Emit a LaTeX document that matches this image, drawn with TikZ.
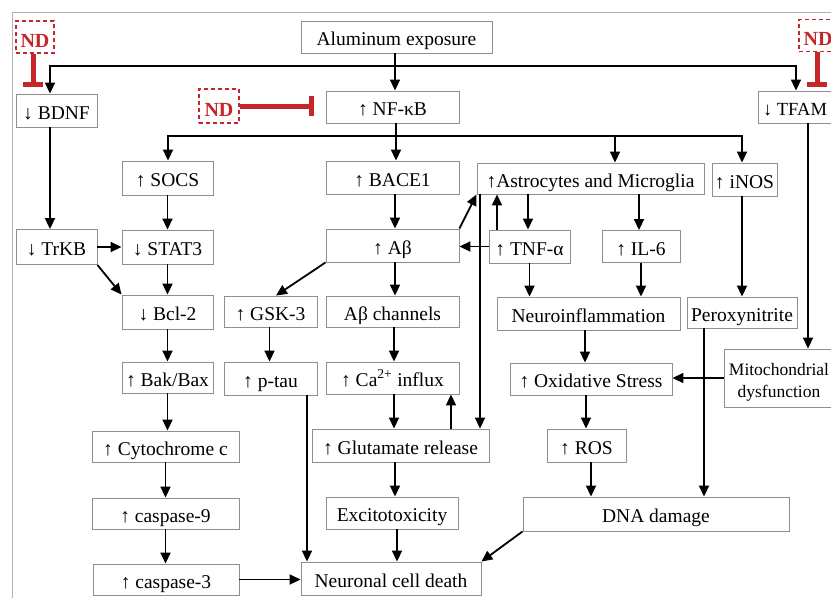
\documentclass[tikz,border=0pt]{standalone}
\usepackage{fontspec}
\setmainfont{Liberation Serif}
\usetikzlibrary{arrows.meta}
\definecolor{ndred}{HTML}{C4262A}
\definecolor{boxgray}{HTML}{8F8F8F}
\newcommand\mybox[6]{\node[box, minimum width=#4pt, minimum height=#5pt] (#1) at (#2,#3) {#6};}
\begin{document}
\begin{tikzpicture}[x=1pt,y=-1pt,
  >={Triangle[length=11pt,width=10pt]},
  box/.style={draw=boxgray, line width=0.9pt, inner sep=0pt, font=\fontsize{19.5}{23}\selectfont, text=black, text height=19.5pt, text depth=2.5pt},
  ndbox/.style={draw=ndred, dash pattern=on 4pt off 3pt, line width=1.5pt, text=ndred, font=\fontsize{20}{22}\selectfont\bfseries, inner sep=0pt, minimum width=38pt, minimum height=32pt, text height=21pt, text depth=1pt},
  arr/.style={line width=1.8pt, ->},
  inh/.style={ndred, line width=5pt, -{Bar[width=20pt]}},
]
\clip (0,0) rectangle (831,598);
\fill[white] (0,0) rectangle (831,598);
\draw[gray!60, line width=1pt] (12,598) -- (12,12) -- (831,12);

% nodes
\mybox{alu}{396.5}{37}{191}{32}{Aluminum exposure}
\mybox{bdnf}{56.5}{110.5}{81}{33}{↓ BDNF}
\mybox{nfkb}{392.5}{107}{133}{32}{↑ NF-κB}
\mybox{tfam}{795}{107}{74}{32}{\fontsize{18.5}{22}\selectfont ↓ TFAM}
\mybox{socs}{167.5}{178}{91}{34}{↑ SOCS}
\mybox{bace}{392.5}{177.5}{133}{33}{↑ BACE1}
\mybox{astro}{590.5}{178.5}{227}{31}{↑Astrocytes and Microglia}
\mybox{inos}{744.5}{179.5}{65}{33}{↑ iNOS}
\mybox{trkb}{56.5}{247}{81}{35}{↓ TrKB}
\mybox{stat3}{167.5}{247}{91}{34}{↓ STAT3}
\mybox{abeta}{392.5}{245.5}{133}{33}{↑ Aβ}
\mybox{tnf}{529.5}{246.5}{81}{33}{↑ TNF-α}
\mybox{il6}{641}{246.5}{78}{32}{↑ IL-6}
\mybox{bcl2}{167.5}{312}{91}{34}{↓ Bcl-2}
\mybox{gsk}{270.5}{311.5}{93}{31}{↑ GSK-3}
\mybox{abch}{392.5}{311.5}{133}{31}{Aβ channels}
\mybox{neuroinf}{588.5}{313.5}{183}{33}{Neuroinflammation}
\mybox{perox}{742}{312.5}{110}{31}{Peroxynitrite}
\mybox{bakbax}{167.5}{377.5}{91}{31}{↑ Bak/Bax}
\mybox{ptau}{270.5}{378.5}{93}{33}{↑ p-tau}
\mybox{ca}{392.5}{378}{133}{32}{↑ Ca\textsuperscript{2+} influx}
\mybox{oxid}{591}{379}{162}{32}{↑ Oxidative Stress}
\mybox{mito}{779}{378}{110}{58}{\fontsize{17.5}{22.5}\selectfont\begin{tabular}{@{}c@{}}Mitochondrial\\dysfunction\end{tabular}}
\mybox{cyto}{165.5}{446.5}{147}{31}{↑ Cytochrome c}
\mybox{glu}{400.5}{445.5}{177}{33}{↑ Glutamate release}
\mybox{ros}{586.5}{445.5}{79}{33}{↑ ROS}
\mybox{casp9}{165.5}{513.5}{147}{31}{↑ caspase-9}
\mybox{excito}{392}{513}{132}{32}{Excitotoxicity}
\mybox{dna}{656}{514}{266}{34}{DNA damage}
\mybox{casp3}{166}{579.5}{146}{31}{↑ caspase-3}
\mybox{death}{391}{578.5}{180}{33}{Neuronal cell death}

\node[ndbox] (nd1) at (35,37) {ND};
\node[ndbox, minimum width=40pt, minimum height=34pt] (nd2) at (219,106) {ND};
\node[ndbox] (nd3) at (818,35.5) {ND};

% inhibitors
\coordinate (i1) at (33,87);
\coordinate (i2) at (314,106);
\coordinate (i3) at (817,87);
\draw[inh] (nd1.south -| i1) -- (i1);
\draw[inh] (nd2.east) -- (i2);
\draw[inh] (nd3.south -| i3) -- (i3);

% top bus
\coordinate (b1) at (396,66);
\coordinate (tf) at (796,0);
\draw[arr, <->] ([xshift=-6.5pt]bdnf.north) |- (b1) -| (tfam.north -| tf);
\draw[arr] ([xshift=-1.5pt]alu.south) -- ([xshift=2.5pt]nfkb.north);

% second bus
\coordinate (b2) at (396,136);
\coordinate (b2a) at (615,136);
\draw[arr, <->] ([xshift=0.5pt]socs.north) |- (b2) -| ([xshift=-2.5pt]inos.north);
\draw[arr] ([xshift=3.5pt]nfkb.south) -- ([xshift=3.5pt]bace.north);
\draw[arr] (b2a) -- (b2a |- astro.north);

% left column
\draw[arr] ([xshift=-6.5pt]bdnf.south) -- ([xshift=-6.5pt]trkb.north);
\draw[arr] (socs.south) -- (stat3.north);
\draw[arr] (trkb.east) -- (stat3.west);
\draw[arr] (trkb.south east) -- (bcl2.north west);
\draw[arr] (stat3.south) -- (bcl2.north);
\draw[arr] (bcl2.south) -- (bakbax.north);
\draw[arr] (bakbax.south) -- (bakbax.south |- cyto.north);
\draw[arr] (cyto.south) -- (casp9.north);
\draw[arr] (casp9.south) -- (casp9.south |- casp3.north);
\draw[arr] (casp3.east) -- (casp3.east -| death.west);

% amyloid column
\draw[arr] ([xshift=2.5pt]bace.south) -- ([xshift=2.5pt]abeta.north);
\draw[arr] ([xshift=2.5pt]abeta.south) -- ([xshift=2.5pt]abch.north);
\draw[arr] ([xshift=1.5pt]abch.south) -- ([xshift=1.5pt]ca.north);
\draw[arr] ([xshift=1.5pt]ca.south) -- ([xshift=1.5pt]ca.south |- glu.north);
\draw[arr] ([xshift=50.5pt]glu.north) -- ([xshift=50.5pt]glu.north |- ca.south);
\draw[arr] ([xshift=-5.5pt]glu.south) -- ([xshift=-5.5pt]glu.south |- excito.north);
\draw[arr] ([xshift=5pt]excito.south) -- ([xshift=5pt]excito.south |- death.north);
\draw[arr] (abeta.south west) -- ([xshift=5.5pt]gsk.north);
\draw[arr] ([xshift=-1pt]gsk.south) -- ([xshift=-1pt]ptau.north);
\draw[arr] ([xshift=36.5pt]ptau.south) -- ([xshift=36.5pt]ptau.south |- death.north);
\draw[arr] (abeta.north east) -- (astro.south west);

% glia column
\draw[arr] ([xshift=-110.5pt]astro.south) -- ([xshift=-110.5pt]astro.south |- glu.north);
\draw[arr] (tnf.west) -- (tnf.west -| abeta.east);
\draw[arr] ([xshift=-32.5pt]tnf.north) -- ([xshift=-32.5pt]tnf.north |- astro.south);
\draw[arr] ([xshift=-62.5pt]astro.south) -- ([xshift=-62.5pt]astro.south |- tnf.north);
\draw[arr] ([xshift=48.5pt]astro.south) -- ([xshift=48.5pt]astro.south |- il6.north);
\draw[arr] (tnf.south) -- (tnf.south |- neuroinf.north);
\draw[arr] (il6.south) -- (il6.south |- neuroinf.north);
\draw[arr] ([xshift=-3.5pt]neuroinf.south) -- ([xshift=-3.5pt]neuroinf.south |- oxid.north);
\draw[arr] ([xshift=-5pt]oxid.south) -- ([xshift=-5pt]oxid.south |- ros.north);
\draw[arr] ([xshift=4.5pt]ros.south) -- ([xshift=4.5pt]ros.south |- dna.north);
\draw[arr] ([xshift=-2.5pt]inos.south) -- ([xshift=-2.5pt]inos.south |- perox.north);
\draw[arr] ([xshift=-38pt]perox.south) -- ([xshift=-38pt]perox.south |- dna.north);
\coordinate (tm) at (808,0);
\draw[arr] (tfam.south -| tm) -- (mito.north -| tm);
\draw[arr] (mito.west) -- (mito.west -| oxid.east);
\draw[arr] (dna.south west) -- (death.north east);
\end{tikzpicture}
\end{document}
